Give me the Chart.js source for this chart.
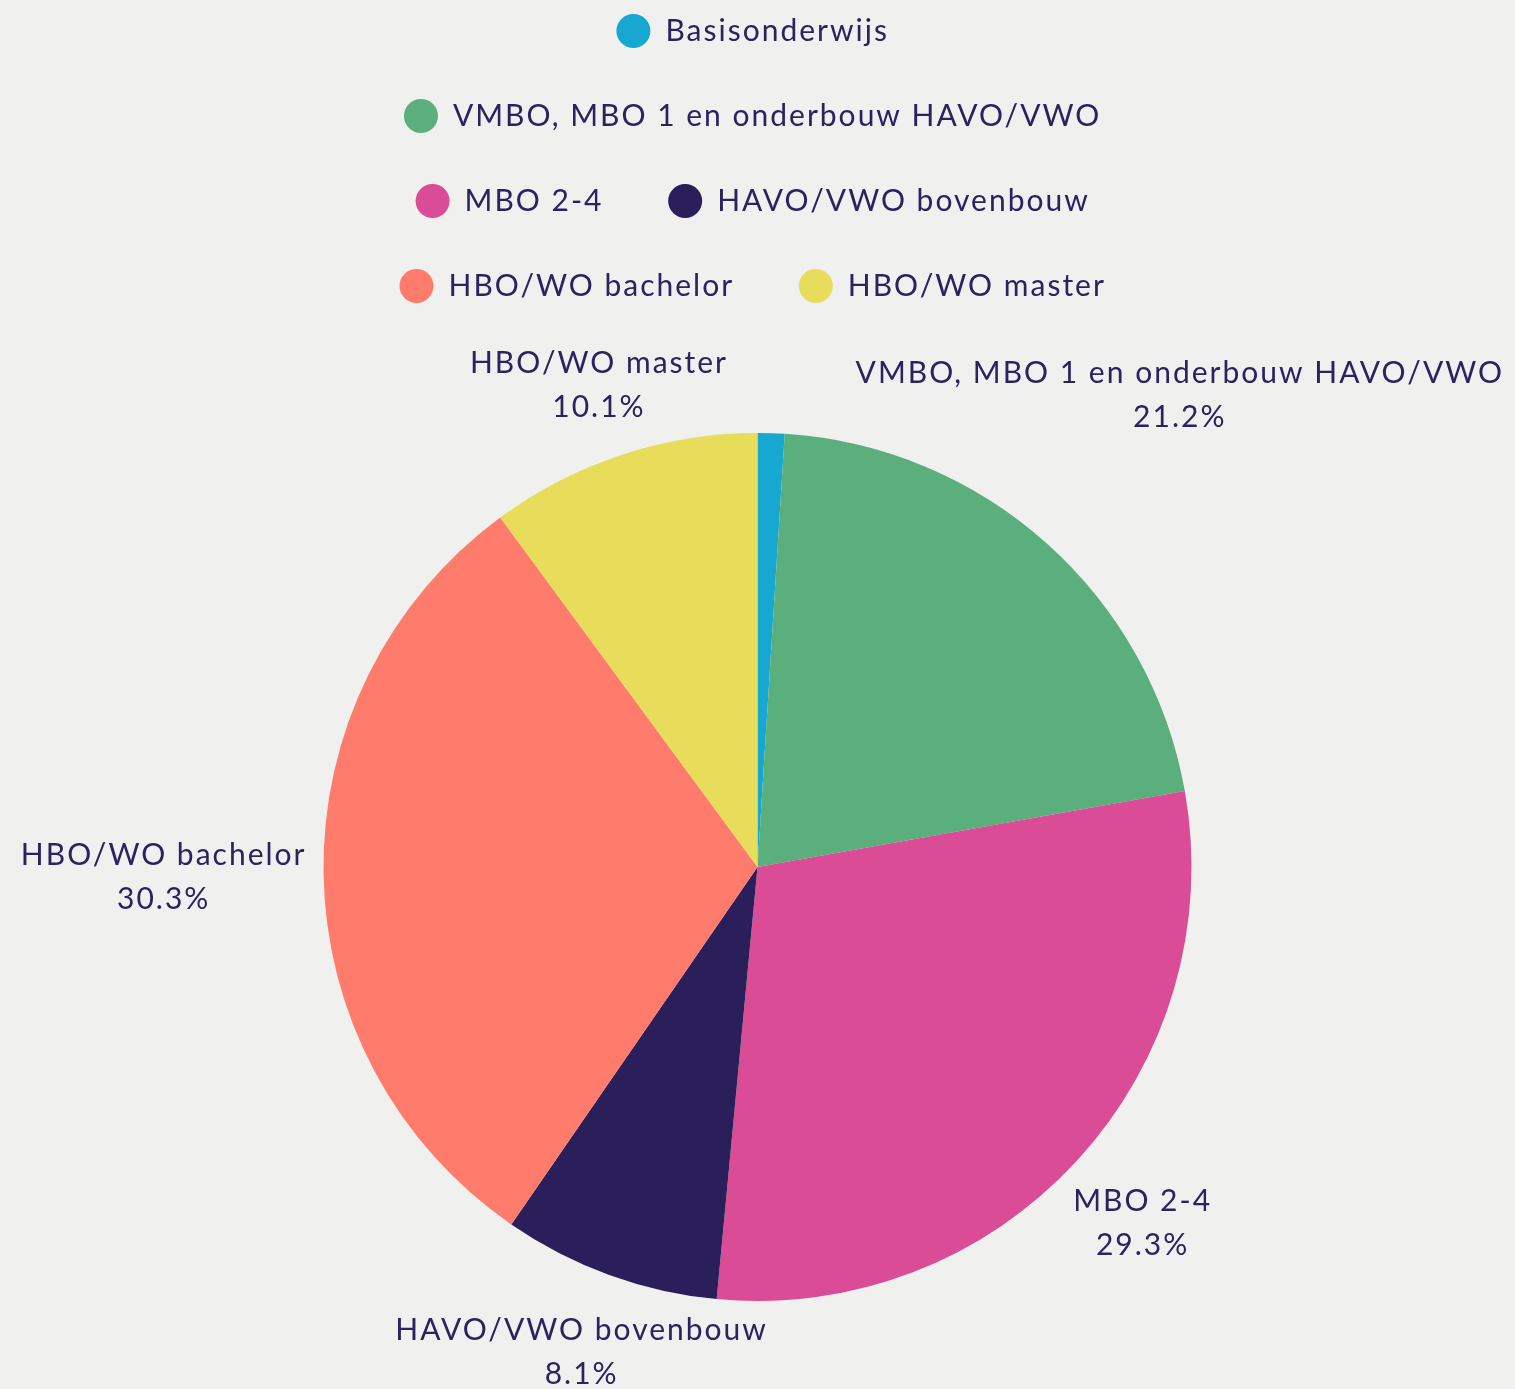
<!DOCTYPE html>
<html>
<head>
<meta charset="utf-8">
<script src="https://cdn.jsdelivr.net/npm/chart.js@4.4.1/dist/chart.umd.min.js"></script>
<style>
  html, body { margin: 0; padding: 0; background: #f0f0ef; }
  #wrap { width: 1515px; height: 1389px; position: relative; }
</style>
</head>
<body>
<div id="wrap"><canvas id="chart"></canvas></div>
<script>
// onderwijsniveau -> aandeel (%)
const categories = [
  "Basisonderwijs",
  "VMBO, MBO 1 en onderbouw HAVO/VWO",
  "MBO 2-4",
  "HAVO/VWO bovenbouw",
  "HBO/WO bachelor",
  "HBO/WO master"
];
const shares = [1.0, 21.2, 29.3, 8.1, 30.3, 10.1];
const sliceColors = ["#17a8d2", "#5aaf7c", "#db4c96", "#2a1f5a", "#ff7b6b", "#e8dc5b"];

const textColor = "#2b2360";
const fontFamily = "Lato, 'Open Sans', sans-serif";

// the original face runs wider than Lato, open the letters up a bit
const wideText = {
  id: "wideText",
  beforeUpdate(chart) { chart.ctx.letterSpacing = "2px"; },
  beforeDraw(chart) { chart.ctx.letterSpacing = "2px"; }
};

// labels outside the pie, pushed out along the slice middle until clear of the edge
const outsideLabels = {
  id: "outsideLabels",
  afterDatasetsDraw(chart) {
    const ctx = chart.ctx;
    const meta = chart.getDatasetMeta(0);
    const total = shares.reduce((a, b) => a + b, 0);
    const lineGap = 44, capH = 21.5, gap = 17;
    ctx.save();
    ctx.font = `30px ${fontFamily}`;
    ctx.fillStyle = textColor;
    ctx.textAlign = "center";
    ctx.textBaseline = "alphabetic";
    meta.data.forEach((arc, i) => {
      const pct = shares[i] / total * 100;
      if (pct < 2) return;
      const { x, y, startAngle, endAngle, outerRadius } =
        arc.getProps(["x", "y", "startAngle", "endAngle", "outerRadius"], true);
      const mid = (startAngle + endAngle) / 2;
      const vx = Math.cos(mid), vy = Math.sin(mid);
      const lines = [categories[i], pct.toFixed(1) + "%"];
      const w = Math.max(...lines.map((t) => ctx.measureText(t).width));
      const h = lineGap + capH;
      const clear = (d) => {
        const cx = x + vx * d, cy = y + vy * d;
        const px = Math.min(Math.max(x, cx - w / 2), cx + w / 2);
        const py = Math.min(Math.max(y, cy - h / 2), cy + h / 2);
        return Math.hypot(px - x, py - y) >= outerRadius + gap;
      };
      let lo = outerRadius, hi = outerRadius + 1000;
      for (let k = 0; k < 40; k++) {
        const m = (lo + hi) / 2;
        if (clear(m)) hi = m; else lo = m;
      }
      const cx = x + vx * hi, cy = y + vy * hi;
      ctx.fillText(lines[0], cx, cy - lineGap / 2 + capH / 2);
      ctx.fillText(lines[1], cx, cy + lineGap / 2 + capH / 2);
    });
    ctx.restore();
  }
};

new Chart(document.getElementById("chart"), {
  type: "pie",
  data: {
    labels: categories,
    datasets: [{
      data: shares,
      backgroundColor: sliceColors,
      borderWidth: 0,
      radius: 434
    }]
  },
  options: {
    responsive: true,
    maintainAspectRatio: false,
    animation: false,
    layout: { padding: { top: -39, bottom: 0, left: 282, right: 282 } },
    plugins: {
      legend: {
        position: "top",
        labels: {
          usePointStyle: true,
          pointStyle: "circle",
          pointStyleWidth: 34,
          boxHeight: 24,
          padding: 55,
          color: textColor,
          font: { family: fontFamily, size: 30 },
          // trailing space widens the gap between items in a row
          generateLabels(chart) {
            const items = Chart.overrides.pie.plugins.legend.labels.generateLabels(chart);
            return items.map((it) => ({ ...it, text: it.text + " " }));
          }
        }
      },
      // empty spacer between legend and pie
      title: { display: true, text: "", weight: 500, padding: 11, font: { size: 10 } },
      tooltip: { enabled: false }
    }
  },
  plugins: [wideText, outsideLabels]
});
</script>
</body>
</html>
